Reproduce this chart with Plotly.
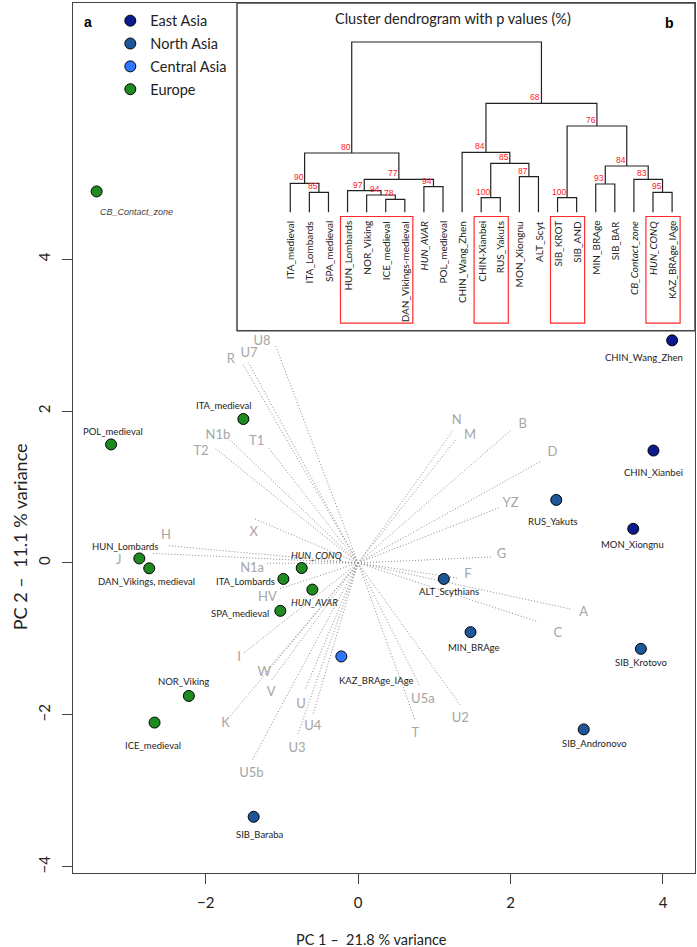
import plotly.graph_objects as go

# ---------------- PCA scores (panel a) ----------------
pop_names = ["CB_Contact_zone", "POL_medieval", "ITA_medieval", "HUN_Lombards",
             "DAN_Vikings, medieval", "HUN_CONQ", "ITA_Lombards", "HUN_AVAR",
             "SPA_medieval", "NOR_Viking", "ICE_medieval", "KAZ_BRAge_IAge",
             "ALT_Scythians", "RUS_Yakuts", "MIN_BRAge", "SIB_Krotovo",
             "SIB_Andronovo", "SIB_Baraba", "CHIN_Wang_Zhen", "CHIN_Xianbei",
             "MON_Xiongnu"]
pop_pc1 = [-3.43, -3.24, -1.505, -2.87, -2.74, -0.74, -0.98, -0.60, -1.02, -2.22,
           -2.67, -0.22, 1.125, 2.60, 1.475, 3.71, 2.96, -1.37, 4.12, 3.875, 3.61]
pop_pc2 = [4.89, 1.56, 1.895, 0.06, -0.07, -0.066, -0.21, -0.35, -0.63, -1.75,
           -2.10, -1.23, -0.21, 0.83, -0.91, -1.13, -2.19, -3.34, 2.93, 1.48, 0.45]
pop_region = ["Europe"] * 11 + ["Central Asia"] + ["North Asia"] * 6 + ["East Asia"] * 3

regions = ["East Asia", "North Asia", "Central Asia", "Europe"]

# ---------------- haplogroup loadings ----------------
hap_names = ["U8", "R", "U7", "N1b", "T1", "T2", "X", "H", "J", "N1a", "HV", "I", "W",
             "V", "K", "U", "U4", "U3", "U5b", "U5a", "T", "U2", "N", "M", "B", "D",
             "YZ", "G", "F", "A", "C"]
hap_pc1 = [-1.085, -1.505, -1.44, -1.68, -1.185, -1.877, -1.374, -2.497, -2.707, -1.198,
           -1.024, -1.505, -1.155, -1.133, -1.68, -0.696, -0.587, -0.797, -1.39, 0.804,
           0.748, 1.339, 1.243, 1.277, 2.008, 2.41, 1.864, 1.745, 1.295, 2.80, 2.36]
hap_pc2 = [2.868, 2.605, 2.64, 1.62, 1.53, 1.51, 0.588, 0.228, 0.128, -0.004,
           -0.338, -1.188, -1.364, -1.54, -2.02, -1.67, -1.98, -2.27, -2.60, -1.605,
           -2.066, -1.868, 1.74, 1.618, 1.75, 1.346, 0.733, 0.079, -0.197, -0.609, -0.773]
hap_label_pc1 = [-1.26, -1.67, -1.43, -1.84, -1.33, -2.06, -1.37, -2.52, -3.14, -1.39,
                 -1.19, -1.56, -1.23, -1.14, -1.74, -0.75, -0.595, -0.80, -1.40, 0.85,
                 0.75, 1.34, 1.295, 1.47, 2.16, 2.55, 2.00, 1.88, 1.44, 2.96, 2.62]
hap_label_pc2 = [2.91, 2.68, 2.75, 1.68, 1.60, 1.46, 0.40, 0.36, 0.03, -0.08,
                 -0.46, -1.25, -1.45, -1.71, -2.11, -1.86, -2.16, -2.45, -2.78, -1.80,
                 -2.25, -2.05, 1.87, 1.68, 1.82, 1.45, 0.78, 0.11, -0.16, -0.65, -0.925]

# ---------------- dendrogram (panel b) ----------------
leaf_order = ["ITA_medieval", "ITA_Lombards", "SPA_medieval", "HUN_Lombards", "NOR_Viking",
              "ICE_medieval", "DAN_Vikings-medieval", "HUN_AVAR", "POL_medieval",
              "CHIN_Wang_Zhen", "CHIN-Xianbei", "RUS_Yakuts", "MON_Xiongnu", "ALT_Scyt",
              "SIB_KROT", "SIB_AND", "MIN_BRAge", "SIB_BAR", "CB_Contact_zone",
              "HUN_CONQ", "KAZ_BRAge_IAge"]
italic_leaves = ["HUN_AVAR", "CB_Contact_zone", "HUN_CONQ"]
# children: leaf names or 1-based index of an earlier merge
merge_a = ["ICE_medieval", "SIB_KROT", "CHIN-Xianbei", "NOR_Viking", "ITA_Lombards",
           "HUN_CONQ", "HUN_Lombards", "HUN_AVAR", "MIN_BRAge", "ITA_medieval",
           7, "CB_Contact_zone", "MON_Xiongnu", 9, 3, 10, "CHIN_Wang_Zhen", 2, 17, 16]
merge_b = ["DAN_Vikings-medieval", "SIB_AND", "RUS_Yakuts", 1, "SPA_medieval",
           "KAZ_BRAge_IAge", 4, "POL_medieval", "SIB_BAR", 5,
           8, 6, "ALT_Scyt", 12, 13, 11, 15, 14, 18, 19]
merge_height = [0.130, 0.146, 0.146, 0.173, 0.200, 0.200, 0.216, 0.256, 0.283, 0.290,
                0.330, 0.330, 0.356, 0.463, 0.490, 0.593, 0.600, 0.863, 1.090, 1.703]
merge_au = [78, 100, 100, 94, 85, 95, 97, 94, 93, 90,
            77, 83, 87, 84, 85, 80, 84, 76, 68, None]
highlight_groups = [("HUN_Lombards", "DAN_Vikings-medieval"), ("CHIN-Xianbei", "RUS_Yakuts"),
                    ("SIB_KROT", "SIB_AND"), ("HUN_CONQ", "KAZ_BRAge_IAge")]

# ---------------- styles ----------------
REGION_COLORS = {"East Asia": "#0b1a8c", "North Asia": "#1d5699",
                 "Central Asia": "#2f76ff", "Europe": "#1f8a1f"}
FONT = "Lato"
AXC = "#444444"
# label placement (pixel offsets from the point) and anchor
LABEL_STYLE = {
    "CB_Contact_zone": (1, 21, "left"), "POL_medieval": (1.5, -13, "center"),
    "ITA_medieval": (-19, -14, "center"), "HUN_Lombards": (-14, -12, "center"),
    "DAN_Vikings, medieval": (-3, 13, "center"), "HUN_CONQ": (15, -13, "center"),
    "ITA_Lombards": (-6, 3, "right"), "HUN_AVAR": (2, 13, "center"),
    "SPA_medieval": (-9, 3, "right"), "NOR_Viking": (-5, -14, "center"),
    "ICE_medieval": (-2, 23, "center"), "KAZ_BRAge_IAge": (-4, 24, "left"),
    "ALT_Scythians": (5, 13, "center"), "RUS_Yakuts": (-3.5, 22, "center"),
    "MIN_BRAge": (3, 15, "center"), "SIB_Krotovo": (0, 14, "center"),
    "SIB_Andronovo": (11, 14, "center"), "SIB_Baraba": (6, 18, "center"),
    "CHIN_Wang_Zhen": (13, 17, "right"), "CHIN_Xianbei": (0, 22, "center"),
    "MON_Xiongnu": (-1, 16, "center"),
}
ITALIC_POPS = ["HUN_CONQ", "HUN_AVAR"]

fig = go.Figure()

# loading lines (dotted)
lx, ly = [], []
for x, y in zip(hap_pc1, hap_pc2):
    lx += [0, x, None]
    ly += [0, y, None]
fig.add_trace(go.Scatter(x=lx, y=ly, mode="lines", showlegend=False, hoverinfo="skip",
                         line=dict(color="#8c8c8c", width=1, dash="1px,2px")))
fig.add_trace(go.Scatter(x=hap_label_pc1, y=hap_label_pc2, text=hap_names, mode="text",
                         showlegend=False, hoverinfo="skip",
                         textfont=dict(family=FONT, size=13, color="#a6a6a6")))

# points by region
for reg in regions:
    idx = [i for i, r in enumerate(pop_region) if r == reg]
    fig.add_trace(go.Scatter(
        x=[pop_pc1[i] for i in idx], y=[pop_pc2[i] for i in idx],
        mode="markers", name=reg, legendgroup=reg,
        marker=dict(size=11, color=REGION_COLORS[reg], line=dict(color="black", width=1)),
        text=[pop_names[i] for i in idx], hoverinfo="text"))

annotations = []
for name, x, y in zip(pop_names, pop_pc1, pop_pc2):
    dx, dy, anc = LABEL_STYLE[name]
    if name == "CB_Contact_zone":
        txt, fnt = "<i>" + name + "</i>", dict(family="Liberation Sans", size=9, color="#444444")
    elif name in ITALIC_POPS:
        txt, fnt = "<i>" + name + "</i>", dict(family=FONT, size=9.5, color="#222222")
    else:
        txt, fnt = name, dict(family=FONT, size=9.5, color="#222222")
    annotations.append(dict(x=x, y=y, xref="x", yref="y", text=txt, showarrow=False,
                            xanchor=anc, yanchor="middle", xshift=dx, yshift=-dy, font=fnt))

# ---------------- dendrogram geometry ----------------
leaf_pos = {n: i for i, n in enumerate(leaf_order)}
node_x, node_h = [], []


def child_xy(c):
    if isinstance(c, str):
        return leaf_pos[c], 0.0
    return node_x[c - 1], node_h[c - 1]


dx_, dy_ = [], []
for a, b, h in zip(merge_a, merge_b, merge_height):
    xa, ha = child_xy(a)
    xb, hb = child_xy(b)
    dx_ += [xa, xa, xb, xb, None]
    dy_ += [ha, h, h, hb, None]
    node_x.append((xa + xb) / 2)
    node_h.append(h)

fig.add_trace(go.Scatter(x=dx_, y=dy_, mode="lines", xaxis="x2", yaxis="y2",
                         showlegend=False, hoverinfo="skip",
                         line=dict(color="#222222", width=1.2)))

for xn, hn, au in zip(node_x, node_h, merge_au):
    if au is None:
        continue
    annotations.append(dict(x=xn, y=hn, xref="x2", yref="y2", text=str(au), showarrow=False,
                            xanchor="right", yanchor="bottom", xshift=1, yshift=-1,
                            font=dict(family="Liberation Sans", size=8.5, color="#ff2020")))

for n, i in leaf_pos.items():
    txt = "<i>" + n + "</i>" if n in italic_leaves else n
    annotations.append(dict(x=i, y=-0.067, xref="x2", yref="y2", text=txt, showarrow=False,
                            textangle=-90, xanchor="center", yanchor="top",
                            font=dict(family=FONT, size=10, color="#222222")))

shapes = [dict(type="rect", xref="x2 domain", yref="y2 domain", x0=0, x1=1, y0=0, y1=1,
               line=dict(color=AXC, width=1.5), fillcolor="rgba(0,0,0,0)", layer="above")]
for first, last in highlight_groups:
    shapes.append(dict(type="rect", xref="x2", yref="y2",
                       x0=leaf_pos[first] - 0.37, x1=leaf_pos[last] + 0.42,
                       y0=-1.107, y1=-0.042, line=dict(color="#ff2a2a", width=1.2)))

# titles / panel letters
annotations += [
    dict(x=0.6105, y=0.9824, xref="paper", yref="paper", text="Cluster dendrogram with p values (%)",
         showarrow=False, xanchor="center", yanchor="middle",
         font=dict(family=FONT, size=14.5, color="#222222")),
    dict(x=0.0246, y=0.9785, xref="paper", yref="paper", text="<b>a</b>", showarrow=False,
         xanchor="center", yanchor="middle", font=dict(family="Liberation Sans", size=14, color="black")),
    dict(x=0.9587, y=0.9774, xref="paper", yref="paper", text="<b>b</b>", showarrow=False,
         xanchor="center", yanchor="middle", font=dict(family="Liberation Sans", size=14, color="black")),
    dict(x=0.4807, y=-0.077, xref="paper", yref="paper", text="PC 1 –  21.8 % variance",
         showarrow=False, xanchor="center", yanchor="middle",
         font=dict(family=FONT, size=14.5, color="#222222")),
    dict(x=-0.0852, y=0.386, xref="paper", yref="paper", text="PC 2 –  11.1 % variance",
         showarrow=False, xanchor="center", yanchor="middle", textangle=-90,
         font=dict(family=FONT, size=18, color="#222222")),
]

fig.update_layout(
    width=697, height=947,
    margin=dict(l=73, r=2, t=3, b=74),
    plot_bgcolor="white", paper_bgcolor="white",
    showlegend=True,
    legend=dict(x=0.06, y=0.998, xanchor="left", yanchor="top", bgcolor="rgba(0,0,0,0)",
                font=dict(family=FONT, size=14.5, color="#222222"),
                tracegroupgap=1, itemsizing="trace"),
    xaxis=dict(range=[-3.74, 4.42], tickvals=[-2, 0, 2, 4], showgrid=False, zeroline=False,
               showline=True, mirror=True, linecolor=AXC, linewidth=1.3,
               ticks="outside", ticklen=10, tickcolor=AXC, tickwidth=1.3,
               tickfont=dict(family=FONT, size=15, color="#222222"), ticklabelstandoff=6),
    yaxis=dict(range=[-4.08, 7.37], tickvals=[-4, -2, 0, 2, 4], showgrid=False, zeroline=False,
               showline=True, mirror=True, linecolor=AXC, linewidth=1.3,
               ticks="outside", ticklen=10, tickcolor=AXC, tickwidth=1.3, tickangle=-90,
               tickfont=dict(family=FONT, size=15, color="#222222"), ticklabelstandoff=6),
    xaxis2=dict(domain=[0.2637, 1.0], range=[-2.79, 21.2], anchor="y2", visible=False),
    yaxis2=dict(domain=[0.6233, 1.0], range=[-1.184, 2.093], anchor="x2", visible=False),
    annotations=annotations,
    shapes=shapes,
)

# remove the default page margin so the figure sits at the window's top-left corner
fig.write_html("out.html", config={"displayModeBar": False},
               post_script="document.body.style.margin='0';")
